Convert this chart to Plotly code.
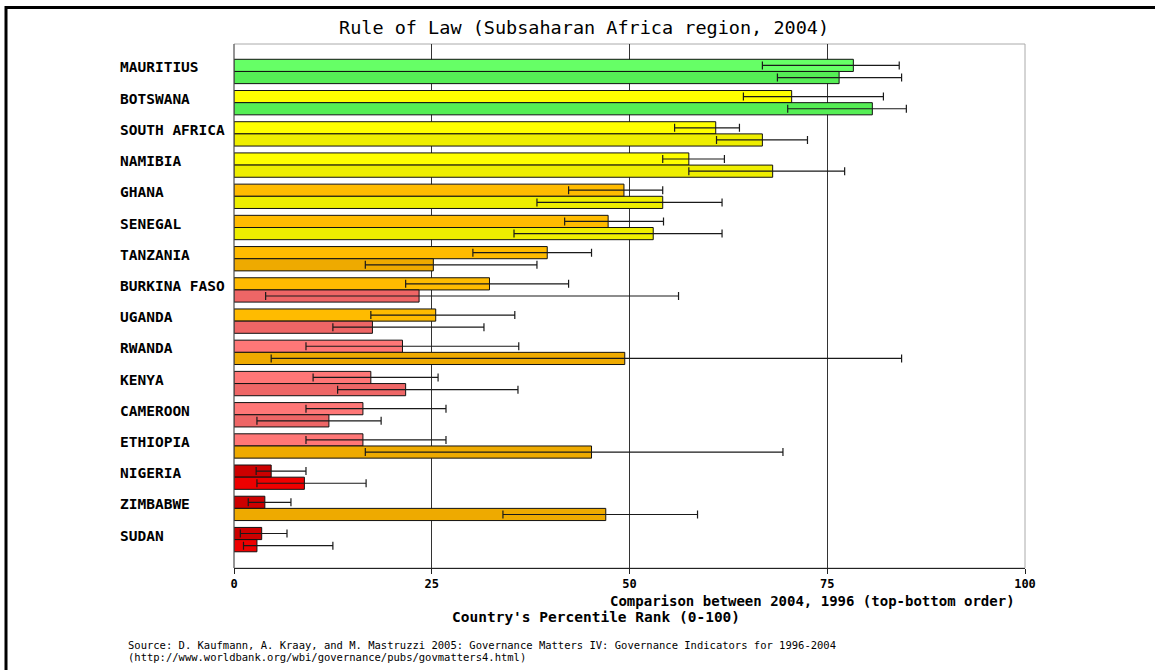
import plotly.graph_objects as go

countries = ["MAURITIUS", "BOTSWANA", "SOUTH AFRICA", "NAMIBIA", "GHANA", "SENEGAL",
             "TANZANIA", "BURKINA FASO", "UGANDA", "RWANDA", "KENYA", "CAMEROON",
             "ETHIOPIA", "NIGERIA", "ZIMBABWE", "SUDAN"]

rank_2004 = [78.3, 70.5, 60.9, 57.5, 49.3, 47.3, 39.6, 32.3, 25.5, 21.3, 17.3, 16.3, 16.3, 4.7, 3.9, 3.5]
low_2004 = [66.8, 64.4, 55.7, 54.2, 42.3, 41.8, 30.2, 21.7, 17.3, 9.1, 10.0, 9.1, 9.1, 2.8, 1.8, 0.8]
high_2004 = [84.1, 82.1, 63.9, 62.0, 54.2, 54.3, 45.2, 42.3, 35.5, 36.0, 25.8, 26.8, 26.8, 9.1, 7.2, 6.7]

rank_1996 = [76.5, 80.7, 66.8, 68.1, 54.2, 53.0, 25.2, 23.4, 17.5, 49.4, 21.7, 12.0, 45.2, 8.9, 47.0, 2.9]
low_1996 = [68.7, 70.0, 61.0, 57.5, 38.3, 35.4, 16.6, 4.0, 12.5, 4.7, 13.1, 2.9, 16.6, 2.9, 34.0, 1.2]
high_1996 = [84.4, 85.0, 72.5, 77.2, 61.7, 61.7, 38.3, 56.2, 31.6, 84.4, 35.9, 18.6, 69.4, 16.7, 58.6, 12.5]

x_ticks = [0, 25, 50, 75, 100]

title = "Rule of Law (Subsaharan Africa region, 2004)"
sub_title = "Comparison between 2004, 1996 (top-bottom order)"
x_title = "Country's Percentile Rank (0-100)"
source1 = "Source: D. Kaufmann, A. Kraay, and M. Mastruzzi 2005: Governance Matters IV: Governance Indicators for 1996-2004"
source2 = "(http://www.worldbank.org/wbi/governance/pubs/govmatters4.html)"

# colour bands (percentile thresholds), one shade for 2004, another for 1996
PAL_2004 = ["#CC0000", "#FF7777", "#FFBB00", "#FFFF00", "#66FF66"]
PAL_1996 = ["#EE0000", "#EE6666", "#EEAA00", "#EEEE00", "#55EE55"]


def band(v):
    if v < 10:
        return 0
    if v < 25:
        return 1
    if v < 50:
        return 2
    if v < 75:
        return 3
    return 4


W, H = 1155, 670
L, R, T, B = 234, 1025, 44, 568


def px2x(px):
    return (px - L) / (R - L)


def px2y(py):
    return (B - py) / (B - T)


pos = list(range(len(countries)))

fig = go.Figure()
for vals, lo, hi, pal, name in [(rank_2004, low_2004, high_2004, PAL_2004, "2004"),
                                (rank_1996, low_1996, high_1996, PAL_1996, "1996")]:
    fig.add_trace(go.Bar(
        y=pos, x=vals, orientation="h", name=name,
        marker=dict(color=[pal[band(v)] for v in vals],
                    line=dict(color="#111111", width=1)),
        error_x=dict(type="data", symmetric=False,
                     array=[h - v for h, v in zip(hi, vals)],
                     arrayminus=[v - l for v, l in zip(vals, lo)],
                     color="#1a1a1a", thickness=1.2, width=4),
        showlegend=False,
    ))

fig.update_layout(
    width=W, height=H,
    margin=dict(l=L, r=W - R, t=T, b=H - B, pad=0),
    paper_bgcolor="white", plot_bgcolor="white",
    barmode="group", bargap=0.22, bargroupgap=0,
    font=dict(family="DejaVu Sans Mono", color="black"),
    xaxis=dict(range=[0, 100], tickvals=x_ticks, ticktext=[str(t) for t in x_ticks],
               showgrid=True, gridcolor="#333333", gridwidth=1, zeroline=False,
               showline=True, linecolor="#222222", linewidth=1,
               ticks="outside", ticklen=5, tickcolor="#222222",
               tickfont=dict(family="DejaVu Sans Mono", size=12, color="black", weight="bold")),
    yaxis=dict(range=[15.91, -0.88], showticklabels=False, showgrid=False,
               zeroline=False, showline=False, ticks=""),
)

# plot border (light grey) and left axis line
fig.add_shape(type="rect", xref="paper", yref="paper", x0=0, x1=1, y0=0, y1=1,
              line=dict(color="#aaaaaa", width=1), layer="below")
fig.add_shape(type="line", xref="paper", yref="paper", x0=0, x1=0, y0=0, y1=1,
              line=dict(color="#555555", width=1))

# outer frame lines (top and left)
fig.add_shape(type="line", xref="paper", yref="paper", x0=px2x(5), x1=px2x(1160),
              y0=px2y(7.5), y1=px2y(7.5), line=dict(color="black", width=3))
fig.add_shape(type="line", xref="paper", yref="paper", x0=px2x(6), x1=px2x(6),
              y0=px2y(6), y1=px2y(680), line=dict(color="black", width=3))

# country labels (left aligned)
for i, c in enumerate(countries):
    fig.add_annotation(x=px2x(118), xref="paper", y=i, yref="y", text=c,
                       showarrow=False, xanchor="left", yanchor="middle", yshift=4,
                       font=dict(family="DejaVu Sans Mono", size=14.5, color="black", weight="bold"))

fig.add_annotation(x=px2x(584), xref="paper", y=px2y(28), yref="paper", text=title,
                   showarrow=False, xanchor="center", yanchor="middle",
                   font=dict(family="DejaVu Sans Mono", size=18.5, color="black"))
fig.add_annotation(x=px2x(1017), xref="paper", y=px2y(601), yref="paper", text=sub_title,
                   showarrow=False, xanchor="right", yanchor="middle",
                   font=dict(family="DejaVu Sans Mono", size=14, color="black", weight="bold"))
fig.add_annotation(x=px2x(596), xref="paper", y=px2y(617), yref="paper", text=x_title,
                   showarrow=False, xanchor="center", yanchor="middle",
                   font=dict(family="DejaVu Sans Mono", size=14.5, color="black", weight="bold"))
fig.add_annotation(x=px2x(126), xref="paper", y=px2y(645), yref="paper", text=source1,
                   showarrow=False, xanchor="left", yanchor="middle",
                   font=dict(family="DejaVu Sans Mono", size=10.5, color="black"))
fig.add_annotation(x=px2x(126), xref="paper", y=px2y(657), yref="paper", text=source2,
                   showarrow=False, xanchor="left", yanchor="middle",
                   font=dict(family="DejaVu Sans Mono", size=10.5, color="black"))

fig.write_html("out.html", config={"displayModeBar": False},
               post_script="document.body.style.margin='0px';")
